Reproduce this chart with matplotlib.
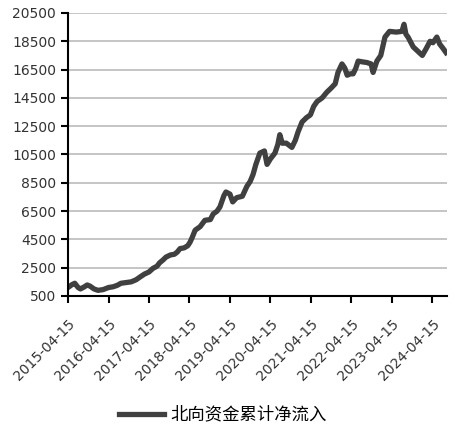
import matplotlib
matplotlib.use('Agg')
import matplotlib.pyplot as plt
import matplotlib.dates as mdates
import pandas as pd

plt.rcParams['font.family'] = ['DejaVu Sans', 'Noto Sans CJK SC']

# 北向资金累计净流入 (亿元)
dates = [
    '2015-04-15', '2015-05-20', '2015-06-15', '2015-07-15', '2015-08-05', '2015-09-10',
    '2015-10-05', '2015-10-30', '2015-12-05', '2016-01-10', '2016-02-25', '2016-04-15',
    '2016-05-25', '2016-07-01', '2016-08-05', '2016-09-20', '2016-11-05', '2016-12-20',
    '2017-01-25', '2017-03-05', '2017-04-15', '2017-05-20', '2017-06-25', '2017-07-20',
    '2017-08-20', '2017-09-15', '2017-10-25', '2017-11-30', '2017-12-25', '2018-01-20',
    '2018-02-25', '2018-03-30', '2018-04-20', '2018-05-10', '2018-06-05', '2018-07-20',
    '2018-09-01', '2018-10-20', '2018-11-15', '2018-12-20', '2019-01-15', '2019-02-20',
    '2019-03-10', '2019-04-15', '2019-05-10', '2019-06-15', '2019-08-05', '2019-09-15',
    '2019-10-15', '2019-11-10', '2019-12-05', '2020-01-10', '2020-02-20', '2020-03-15',
    '2020-04-15', '2020-05-25', '2020-06-20', '2020-07-08', '2020-07-30', '2020-09-05',
    '2020-10-25', '2020-11-25', '2020-12-20', '2021-01-25', '2021-03-05', '2021-04-10',
    '2021-05-10', '2021-06-10', '2021-07-25', '2021-09-05', '2021-10-15', '2021-11-20',
    '2021-12-15', '2022-01-20', '2022-02-15', '2022-03-08', '2022-04-05', '2022-05-01',
    '2022-05-25', '2022-06-15', '2022-07-20', '2022-09-01', '2022-10-10', '2022-10-28',
    '2022-12-01', '2023-01-05', '2023-02-12', '2023-03-25', '2023-05-25', '2023-07-15',
    '2023-08-03', '2023-08-20', '2023-09-08', '2023-10-25', '2023-12-05', '2024-01-15',
    '2024-02-20', '2024-03-25', '2024-04-20', '2024-05-25', '2024-06-20', '2024-07-20',
    '2024-08-16',
]
values = [
    1100, 1300, 1400, 1100, 1000, 1150,
    1280, 1200, 1000, 900, 950, 1100,
    1150, 1250, 1400, 1450, 1500, 1650,
    1850, 2050, 2200, 2450, 2600, 2850,
    3050, 3250, 3400, 3450, 3600, 3850,
    3900, 4050, 4300, 4650, 5150, 5400,
    5850, 5900, 6300, 6500, 6800, 7600,
    7850, 7700, 7150, 7450, 7550, 8250,
    8600, 9100, 9800, 10600, 10750, 9800,
    10200, 10600, 11200, 11900, 11300, 11300,
    11000, 11500, 12100, 12800, 13100, 13300,
    13900, 14250, 14500, 14900, 15200, 15500,
    16300, 16900, 16600, 16100, 16200, 16200,
    16600, 17100, 17050, 17000, 16900, 16300,
    17100, 17500, 18800, 19200, 19150, 19200,
    19700, 19000, 18800, 18100, 17800, 17500,
    18000, 18500, 18400, 18800, 18300, 18000,
    17700,
]
tick_dates = ['2015-04-15', '2016-04-15', '2017-04-15', '2018-04-15', '2019-04-15',
              '2020-04-15', '2021-04-15', '2022-04-15', '2023-04-15', '2024-04-15']
y_ticks = list(range(500, 20501, 2000))

fig = plt.figure(figsize=(4.55, 4.33), dpi=100)
ax = fig.add_axes([0.1495, 0.3164, 0.8325, 0.6536])

ax.plot(pd.to_datetime(dates), values, color='#404040', linewidth=3.8,
        solid_joinstyle='round', label='北向资金累计净流入')

ax.set_xlim(pd.Timestamp('2015-04-15'), pd.Timestamp('2024-08-23'))
ax.set_ylim(500, 20500)
ax.set_yticks(y_ticks)
ax.set_xticks(pd.to_datetime(tick_dates))
ax.xaxis.set_major_formatter(mdates.DateFormatter('%Y-%m-%d'))
plt.setp(ax.get_xticklabels(), rotation=45, ha='right', rotation_mode='anchor')

ax.grid(axis='y', color='#c0c0c0', linewidth=1.3)
ax.set_axisbelow(True)
for side in ['top', 'right']:
    ax.spines[side].set_visible(False)
for side in ['left', 'bottom']:
    ax.spines[side].set_linewidth(1.5)
ax.tick_params(axis='both', direction='out', length=5, width=1.5,
               labelsize=10, colors='black', labelcolor='#333333')
ax.tick_params(axis='x', pad=10)

fig.legend(loc='center', bbox_to_anchor=(0.49, 0.042), frameon=False,
           handlelength=2.6, handletextpad=0.4,
           prop={'family': ['Noto Sans CJK SC'], 'size': 12.5})

fig.savefig('out.png', dpi=100)
